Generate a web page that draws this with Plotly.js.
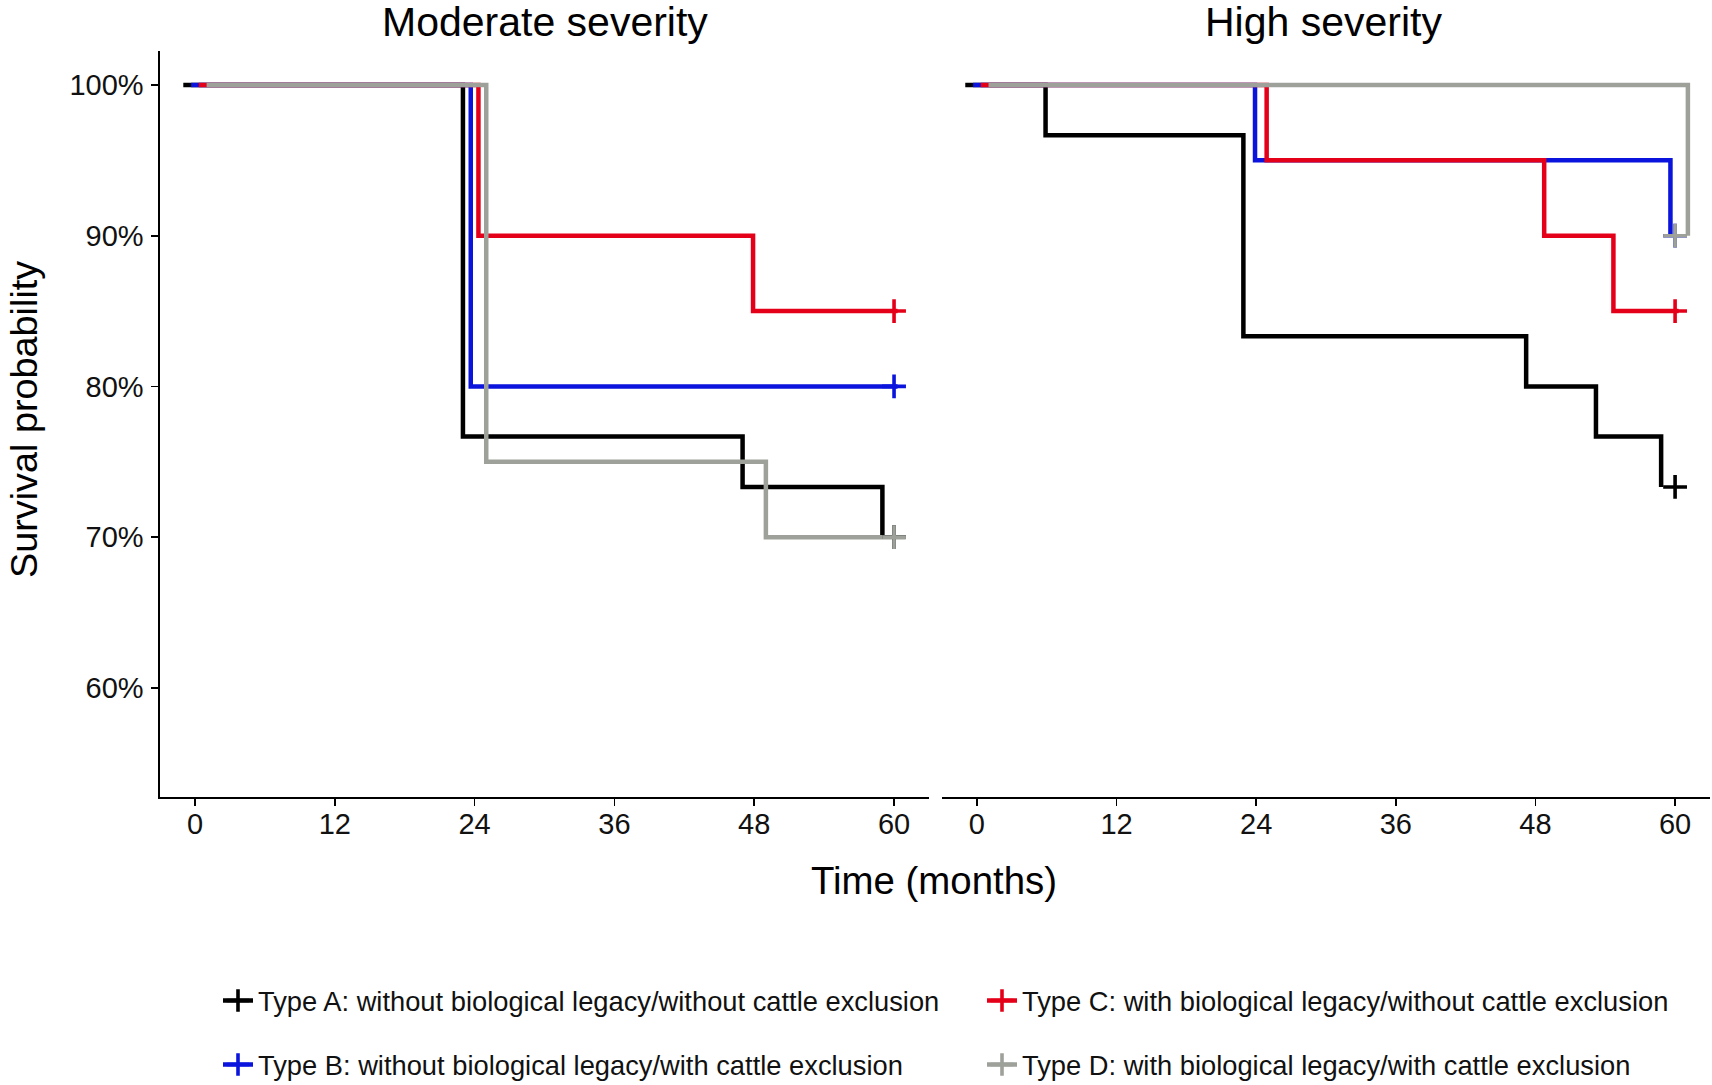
<!DOCTYPE html>
<html>
<head>
<meta charset="utf-8">
<script src="https://cdn.plot.ly/plotly-3.0.1.min.js"></script>
<style>html,body{margin:0;padding:0;background:#fff;overflow:hidden;}#chart{width:1712px;height:1085px;}</style>
</head>
<body>
<div id="chart"></div>
<script>
// ---- Data (time in months as plotted, survival probability) ----
const seriesNames = [
  "Type A: without biological legacy/without cattle exclusion",
  "Type B: without biological legacy/with cattle exclusion",
  "Type C: with biological legacy/without cattle exclusion",
  "Type D: with biological legacy/with cattle exclusion"
];
const panelTitles = ["Moderate severity", "High severity"];
const xTickVals = [0, 12, 24, 36, 48, 60];
const yTickVals = [0.6, 0.7, 0.8, 0.9, 1.0];

// Moderate severity
const modA_time = [-1, 23, 47, 59];
const modA_surv = [1, 0.7667, 0.7333, 0.70];
const modB_time = [-0.33, 23.67, 60.3];
const modB_surv = [1, 0.80, 0.80];
const modC_time = [0.33, 24.33, 47.9, 60.3];
const modC_surv = [1, 0.90, 0.85, 0.85];
const modD_time = [1, 25, 49, 61];
const modD_surv = [1, 0.75, 0.70, 0.70];

// High severity
const highA_time = [-1, 5.9, 22.9, 47.2, 53.2, 58.8];
const highA_surv = [1, 0.9667, 0.8333, 0.80, 0.7667, 0.7333];
const highB_time = [-0.33, 23.9, 59.6];
const highB_surv = [1, 0.95, 0.90];
const highC_time = [0.33, 24.9, 48.75, 54.7, 60.3];
const highC_surv = [1, 0.95, 0.90, 0.85, 0.85];
const highD_time = [1, 61.1];
const highD_surv = [1, 0.90];

// Censoring marks (+)
const censorTime = [60, 60, 60, 60];
const modCensorSurv = [0.70, 0.80, 0.85, 0.70];
const highCensorSurv = [0.7333, 0.90, 0.85, 0.90];

const colors = ["#000000", "#0A14DC", "#E5001A", "#9DA19A"];
const LW = 4.5;
const FONT = "Liberation Sans, Arial, sans-serif";

const modT = [modA_time, modB_time, modC_time, modD_time];
const modS = [modA_surv, modB_surv, modC_surv, modD_surv];
const highT = [highA_time, highB_time, highC_time, highD_time];
const highS = [highA_surv, highB_surv, highC_surv, highD_surv];
const legendIds = ["legend", "legend3", "legend2", "legend4"]; // A row1 col1, B row2 col1, C row1 col2, D row2 col2

const traces = [];
function addPanel(T, S, cS, xa, ya, withLegend) {
  for (let i = 0; i < 4; i++) {
    traces.push({
      type: "scatter", mode: "lines", x: T[i], y: S[i], xaxis: xa, yaxis: ya,
      line: {shape: "hv", color: colors[i], width: LW},
      showlegend: false, hoverinfo: "skip"
    });
  }
  for (let i = 0; i < 4; i++) {
    traces.push({
      type: "scatter", mode: "lines+markers", x: [censorTime[i]], y: [cS[i]], xaxis: xa, yaxis: ya,
      name: seriesNames[i],
      line: {color: colors[i], width: LW},
      marker: {symbol: "cross-thin", size: 17, color: colors[i], line: {color: colors[i], width: 3.6}},
      showlegend: withLegend,
      legend: legendIds[i],
      hoverinfo: "skip"
    });
  }
}
addPanel(modT, modS, modCensorSurv, "x", "y", true);
addPanel(highT, highS, highCensorSurv, "x2", "y2", false);

const W = 1712, H = 1085;
const yDom = [1 - 797.1 / H, 1 - 51.1 / H];
const tickFont = {family: FONT, size: 29, color: "#111"};
const xAxisBase = {
  range: [-3, 63], tickvals: xTickVals, ticktext: xTickVals.map(String),
  showline: true, linecolor: "#000", linewidth: 1.6, mirror: false,
  ticks: "outside", ticklen: 7, tickwidth: 1.6, tickcolor: "#000",
  tickfont: tickFont, ticklabelstandoff: -7,
  showgrid: false, zeroline: false, fixedrange: true
};
const yAxisBase = {
  range: [0.5275, 1.0225], domain: yDom, tickvals: yTickVals, tickformat: ".0%",
  showgrid: false, zeroline: false, fixedrange: true
};

function legendAt(px, py) {
  return {
    orientation: "h", x: px / W, xanchor: "left", y: 1 - py / H, yanchor: "middle",
    font: {family: FONT, size: 27.3, color: "#111"}, bgcolor: "rgba(0,0,0,0)", borderwidth: 0,
    itemsizing: "trace"
  };
}

const layout = {
  width: W, height: H,
  margin: {l: 0, r: 0, t: 0, b: 0, autoexpand: false},
  paper_bgcolor: "#fff", plot_bgcolor: "#fff",
  font: {family: FONT, color: "#000"},
  xaxis: Object.assign({}, xAxisBase, {domain: [160 / W, 929 / W], anchor: "y"}),
  xaxis2: Object.assign({}, xAxisBase, {domain: [942 / W, 1710 / W], anchor: "y2"}),
  yaxis: Object.assign({}, yAxisBase, {
    anchor: "x", showline: true, linecolor: "#000", linewidth: 1.6,
    ticks: "outside", ticklen: 7, tickwidth: 1.6, tickcolor: "#000",
    tickfont: tickFont, ticklabelstandoff: 2
  }),
  yaxis2: Object.assign({}, yAxisBase, {anchor: "x2", showline: false, showticklabels: false, ticks: ""}),
  legend: legendAt(218, 1000.7),
  legend2: legendAt(982, 1000.7),
  legend3: legendAt(218, 1064.7),
  legend4: legendAt(982, 1064.7),
  annotations: [
    {text: panelTitles[0], xref: "paper", yref: "paper", x: 544.5 / W, y: 1 - 22 / H,
     xanchor: "center", yanchor: "middle", showarrow: false, font: {family: FONT, size: 41, color: "#000"}},
    {text: panelTitles[1], xref: "paper", yref: "paper", x: 1323 / W, y: 1 - 22 / H,
     xanchor: "center", yanchor: "middle", showarrow: false, font: {family: FONT, size: 41, color: "#000"}},
    {text: "Time (months)", xref: "paper", yref: "paper", x: 934 / W, y: 1 - 880.5 / H,
     xanchor: "center", yanchor: "middle", showarrow: false, font: {family: FONT, size: 38.4, color: "#000"}},
    {text: "Survival probability", xref: "paper", yref: "paper", x: 24 / W, y: 1 - 420 / H,
     xanchor: "center", yanchor: "middle", textangle: -90, showarrow: false, font: {family: FONT, size: 37.8, color: "#000"}}
  ]
};

Plotly.newPlot("chart", traces, layout, {displayModeBar: false, staticPlot: true});
</script>
</body>
</html>
